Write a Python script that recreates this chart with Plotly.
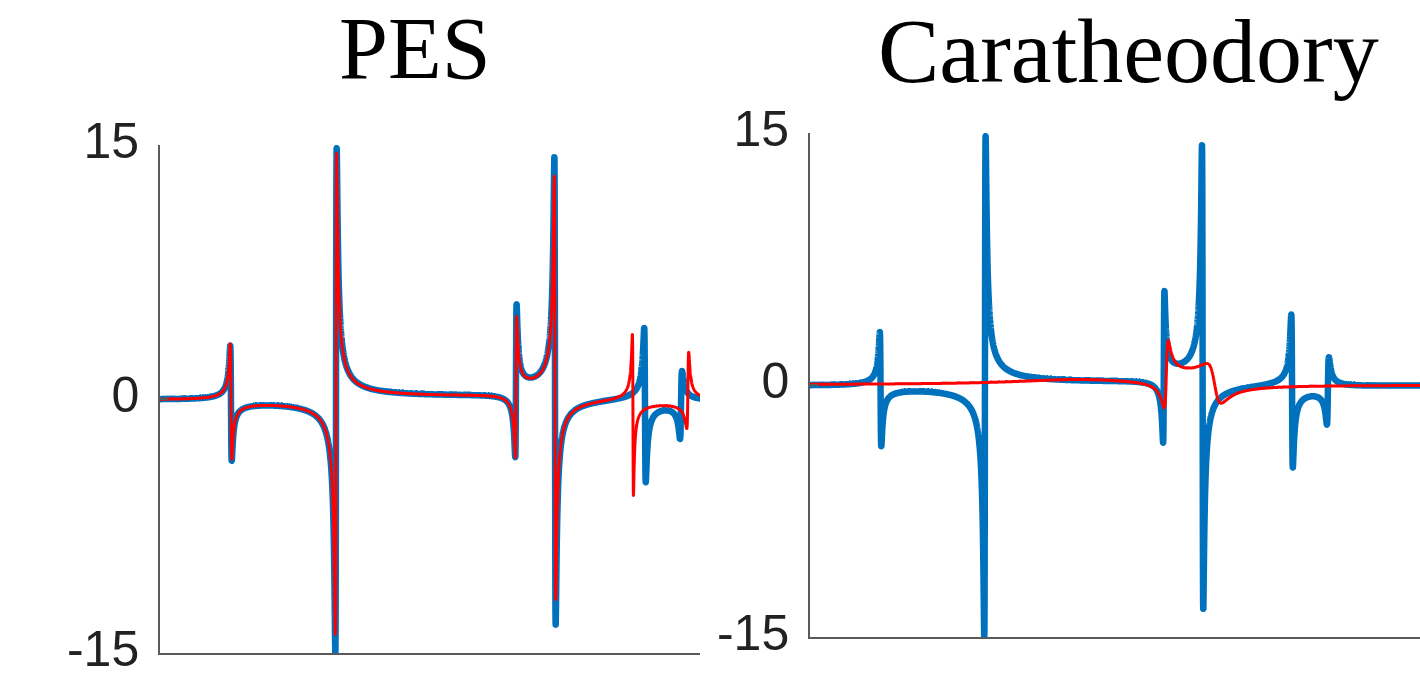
import numpy as np
import plotly.graph_objects as go

# ---- axis settings -------------------------------------------------------
x_range_pes = [0.0, 5.40]      # visible frequency window, left panel
x_range_cara = [0.0, 6.137]    # visible frequency window, right panel
y_tick_values = [-15, 0, 15]
y_tick_text = ["-15", "0", "15"]
panel_titles = ["PES", "Caratheodory"]

# ---- resonances of the exact response (blue, both panels) ----------------
# centre, half-width, local maximum, local minimum, order (+1: max before min)
exact_centre = [0.71, 1.76, 3.56, 3.95, 4.85, 5.21]
exact_width = [0.00735, 0.00671, 0.00671, 0.0065, 0.0077, 0.0100]
exact_peak = [3.3, 14.8, 5.0, 14.0, 4.4, 1.9]
exact_trough = [-3.5, -15.0, -4.0, -13.6, -4.7, -2.1]
exact_order = [1, -1, -1, 1, 1, -1]

# ---- resonances recovered by PES (red, left panel) -----------------------
pes_centre = [0.71, 1.76, 3.56, 3.95, 4.73, 5.28]
pes_width = [0.00735, 0.0069, 0.0070, 0.0070, 0.0053, 0.0093]
pes_peak = [3.4, 14.5, 4.3, 12.9, 4.0, 2.9]
pes_trough = [-3.4, -13.9, -4.0, -12.1, -5.5, -1.6]
pes_order = [1, -1, -1, 1, 1, -1]

# ---- resonances recovered by Caratheodory (red, right panel) -------------
cara_centre = [3.586, 4.074, 2.716]
cara_width = [0.020, 0.070, 0.80]
cara_peak = [2.2, 1.0, 0.3]
cara_trough = [-1.8, -1.3, 0.0]
cara_order = [-1, 1, 1]


def response(x, centre, width, peak, trough, order):
    """Sum of complex-pole line shapes, each given by its extrema."""
    total = np.zeros_like(x)
    for c, g, p, t, o in zip(centre, width, peak, trough, order):
        disp = o * 2.0 * g * np.sqrt(p * abs(t))
        absorb = g * (p + t)
        dx = x - c
        total += (-disp * dx + absorb * g) / (dx ** 2 + g ** 2)
    return total


freq = np.linspace(0.0, 6.2, 24801)
exact = response(freq, exact_centre, exact_width, exact_peak, exact_trough, exact_order)
pes = response(freq, pes_centre, pes_width, pes_peak, pes_trough, pes_order)
cara = response(freq, cara_centre, cara_width, cara_peak, cara_trough, cara_order)

BLUE = "#0072BD"
RED = "#FF0000"
AXIS = "#5a5a5a"
W, H = 1420, 678

blue_line = dict(color=BLUE, width=6.5, simplify=False)
red_line = dict(color=RED, width=3, simplify=False)

fig = go.Figure()
fig.add_trace(go.Scatter(x=freq, y=exact, mode="lines", line=blue_line,
                         xaxis="x", yaxis="y", showlegend=False, hoverinfo="skip"))
fig.add_trace(go.Scatter(x=freq, y=pes, mode="lines", line=red_line,
                         xaxis="x", yaxis="y", showlegend=False, hoverinfo="skip"))
fig.add_trace(go.Scatter(x=freq, y=exact, mode="lines", line=blue_line,
                         xaxis="x2", yaxis="y2", showlegend=False, hoverinfo="skip"))
fig.add_trace(go.Scatter(x=freq, y=cara, mode="lines", line=red_line,
                         xaxis="x2", yaxis="y2", showlegend=False, hoverinfo="skip"))

common_x = dict(showline=True, linecolor=AXIS, linewidth=1.6, showticklabels=False,
                ticks="", showgrid=False, zeroline=False, fixedrange=True, automargin=False)
common_y = dict(showline=True, linecolor=AXIS, linewidth=1.6, ticks="inside", ticklen=8,
                tickcolor=AXIS, tickwidth=1.6, tickvals=y_tick_values, ticktext=y_tick_text,
                tickfont=dict(family="Liberation Sans, Arial, sans-serif", size=50, color="#222222"),
                ticklabelstandoff=9, ticklabelshift=-5, ticklabeloverflow="allow",
                showgrid=False, zeroline=False, range=[-15, 15], fixedrange=True,
                automargin=False)

left_x = [160 / W, 700 / W]
left_y = [1 - 653 / H, 1 - 145 / H]
right_x = [810 / W, 1.0]
right_y = [1 - 637 / H, 1 - 133 / H]

fig.update_layout(
    width=W, height=H,
    margin=dict(l=0, r=0, t=0, b=0, autoexpand=False),
    paper_bgcolor="white", plot_bgcolor="white",
    xaxis=dict(domain=left_x, range=x_range_pes, anchor="y", **common_x),
    yaxis=dict(domain=left_y, anchor="x", **common_y),
    xaxis2=dict(domain=right_x, range=x_range_cara, anchor="y2", **common_x),
    yaxis2=dict(domain=right_y, anchor="x2", **common_y),
    annotations=[
        dict(text=panel_titles[0], x=415 / W, y=1 - 49 / H, xref="paper", yref="paper",
             xanchor="center", yanchor="middle", showarrow=False,
             font=dict(family="Liberation Serif, Times New Roman, serif", size=88, color="black")),
        dict(text=panel_titles[1], x=1128 / W, y=1 - 51 / H, xref="paper", yref="paper",
             xanchor="center", yanchor="middle", showarrow=False,
             font=dict(family="Liberation Serif, Times New Roman, serif", size=92, color="black")),
    ],
)

# rounded joins so the narrow resonance spikes end in round tips
round_joins = """
document.querySelectorAll('.scatterlayer .js-line').forEach(function (p) {
  p.style.strokeLinejoin = 'round';
  p.style.strokeLinecap = 'round';
});
"""

fig.write_html("out.html", post_script=round_joins)
